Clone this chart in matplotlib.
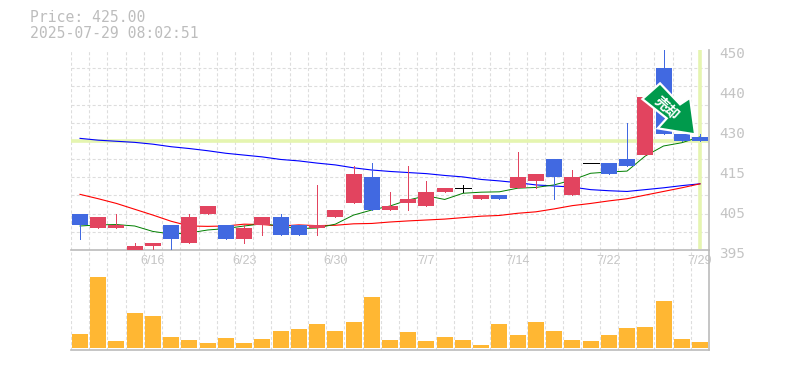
import matplotlib
matplotlib.use("Agg")
import matplotlib.pyplot as plt
import numpy as np
from matplotlib.patches import Polygon
from matplotlib.transforms import Affine2D, ScaledTranslation

price_text = "Price: 425.00"
stamp_text = "2025-07-29 08:02:51"

opens  = [405,401,401,395,396,402,397,405,402,398,402,404,402,401,404,408,415,406,408,407,411,412,409,410,412,414,420,410,419,419,420,421,445,427,426]
closes = [402,404,402,396,397,398,404,407,398,401,404,399,399,402,406,416,406,407,409,411,412,412,410,409,415,416,415,415,419,416,418,437,427,425,425]
highs  = [405,404,405,397,397,402,405,407,402,402,404,405,402,413,406,418,419,411,418,414,412,413,410,410,422,416,420,417,419,419,430,437,450,427,427]
lows   = [398,401,401,395,395,395,397,405,398,397,399,399,399,399,404,408,406,406,406,407,411,411,409,409,412,412,409,410,419,416,418,421,427,425,425]

ma_blue = [425.7,425.2,424.9,424.6,424.1,423.4,422.9,422.3,421.6,421.1,420.6,419.9,419.5,418.9,418.4,417.6,417.0,416.6,416.3,416.0,415.5,415.1,414.4,414.0,413.5,412.9,412.6,412.3,411.6,411.3,411.1,411.6,412.1,412.7,413.2]
ma_green = [401.6,401.9,402.0,401.6,400.1,399.4,399.7,400.5,400.9,401.6,402.2,401.6,400.9,401.05,402.1,404.6,406.0,407.1,408.75,409.9,408.9,410.6,410.9,411.0,412.0,412.2,412.9,414.25,416.1,416.45,416.7,420.85,423.6,424.5,426.1]
ma_red = [410.3,409.1,407.8,406.2,404.6,402.9,401.6,401.5,401.6,402.1,402.0,401.6,401.9,401.7,401.8,402.2,402.3,402.7,403.0,403.25,403.5,403.9,404.3,404.5,405.1,405.5,406.3,407.2,407.8,408.5,409.1,410.1,411.1,412.1,413.2]

volumes = [14,71,7,35,32,11,8,5,10,5,9,17,19,24,17,26,51,8,16,7,11,8,3,24,13,26,17,8,7,13,20,21,47,9,6]

date_idx = [4,9,14,19,24,29,34]
date_labels = ["6/16","6/23","6/30","7/7","7/14","7/22","7/29"]
y_ticks = [395,406,417,428,439,450]
y_labels = ["395","405","415","430","440","450"]
y_grid = [395,400,405,410,415,420,425,430,435,440,445,450]

current_price = 425
current_idx = 34

C_UP, C_DOWN, C_DOJI = "#E2445F", "#4169E1", "#000000"
C_GRID, C_AXIS, C_TEXT = "#DDDDDD", "#BBBBBB", "#BDBDBD"
C_PALE, C_VOL, C_ARROW = "#E5F5B0", "#FFB733", "#009A4C"

plt.rcParams["lines.scale_dashes"] = False
W, H = 785, 370
fig = plt.figure(figsize=(W/100, H/100), dpi=100, facecolor="white")
L, R = 70.9, 709.1
ax = fig.add_axes([L/W, 1-250/H, (R-L)/W, 200/H], facecolor="none")
vx = fig.add_axes([L/W, 1-350/H, (R-L)/W, 100/H], facecolor="none")

x = np.arange(len(opens))
grid_x = np.arange(-0.5, len(opens), 1)
for a in (ax, vx):
    a.set_xlim(-0.5, 34.5)
    a.set_xticks(grid_x, minor=True)
    a.grid(True, which="minor", axis="x", color=C_GRID, lw=0.8, ls=(0, (2.2, 1.6)), zorder=0)
    a.set_axisbelow(True)
    a.tick_params(which="both", length=0)
    for s in ("top", "left"):
        a.spines[s].set_visible(False)
    for s in ("bottom", "right"):
        a.spines[s].set_color(C_AXIS)
        a.spines[s].set_linewidth(1.2)

# price panel
ax.set_ylim(395, 450)
ax.set_yticks(y_grid, minor=True)
ax.grid(True, which="minor", axis="y", color=C_GRID, lw=0.8, ls=(0, (2.2, 1.6)), zorder=0)
ax.yaxis.tick_right()
ax.set_yticks(y_ticks, y_labels, family="DejaVu Sans Mono", fontsize=10.4, color="#C4C4C4")
ax.tick_params(axis="y", which="major", pad=7.5)
for lab in ax.get_yticklabels():
    lab.set_transform(lab.get_transform() + ScaledTranslation(0, -3/100, fig.dpi_scale_trans))
ax.set_xticks(date_idx, date_labels, family="Liberation Sans", fontsize=9, color="#C4C4C4")
ax.tick_params(axis="x", which="major", pad=3.5)

ax.axhline(current_price, color=C_PALE, lw=2.6, zorder=1)
ax.vlines(current_idx, 395.3, 450, color=C_PALE, lw=2.6, zorder=1)

ax.plot(x, ma_blue, color="#0000FF", lw=0.8, zorder=2)
ax.plot(x, ma_red, color="#FF0000", lw=0.8, zorder=2)
ax.plot(x, ma_green, color="#007F00", lw=0.7, zorder=2)

width = 16/18.235
for i, (o, c, h, l) in enumerate(zip(opens, closes, highs, lows)):
    col = C_UP if c > o else C_DOWN if c < o else C_DOJI
    ax.vlines(i, l, h, color=col, lw=0.6, antialiased=False, zorder=3)
    if c == o:
        ax.hlines(c, i-width/2, i+width/2, color=col, lw=0.6, antialiased=False, zorder=3)
    else:
        ax.bar(i, abs(c-o), bottom=min(o, c), width=width, color=col, lw=0, zorder=3)

# sell marker, shape given in pixels relative to its tip
fig.canvas.draw()
tip = ax.transData.transform((33.73, 426.8))
shape = [(-52.7, 35.3), (-35, 51), (-15, 30), (-5, 36.6), (0, 0), (-37.3, 6), (-28.3, 16)]
tr = Affine2D().translate(*tip)
ax.add_patch(Polygon(shape, closed=True, transform=tr, facecolor=C_ARROW, edgecolor="white",
                     lw=1.6, joinstyle="miter", zorder=5, clip_on=False))
ax.text(-29, 26, "売却", transform=tr, rotation=-42, rotation_mode="anchor", ha="center", va="center",
        family=["Noto Sans CJK JP", "DejaVu Sans"], fontweight="bold", fontsize=10, color="white", zorder=6)

# volume panel
vx.set_ylim(-2, 98)
vx.set_yticks([])
vx.set_xticks([])
vx.bar(x, volumes, width=width, color=C_VOL, lw=0, zorder=3)

fig.text(30/W, 1-18/H, price_text, family="DejaVu Sans Mono", fontsize=10.6, color=C_TEXT, va="center")
fig.text(30/W, 1-33/H, stamp_text, family="DejaVu Sans Mono", fontsize=10.6, color=C_TEXT, va="center")

fig.savefig("out.png", dpi=100)
